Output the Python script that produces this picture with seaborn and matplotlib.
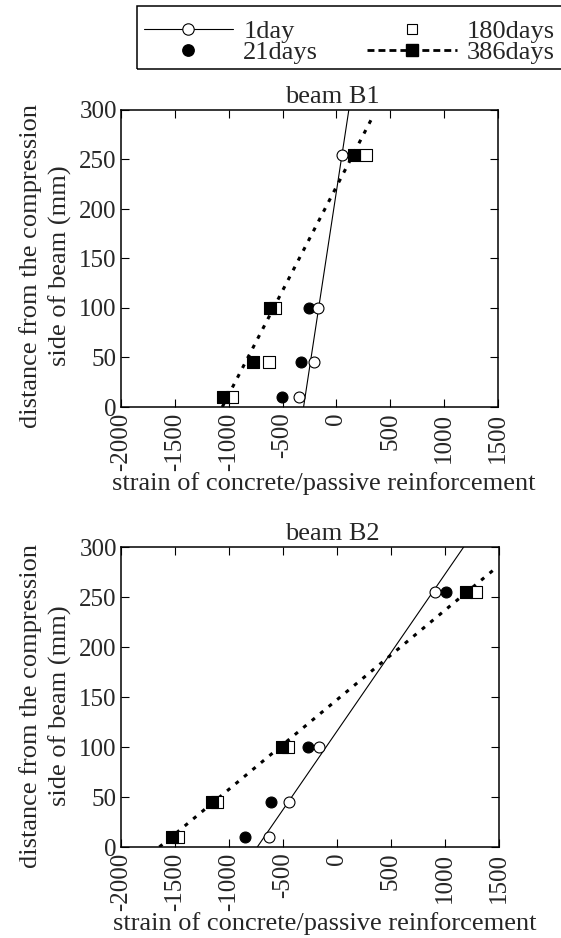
import matplotlib
matplotlib.use("Agg")
import matplotlib.pyplot as plt
from matplotlib.lines import Line2D
from matplotlib.patches import Rectangle
import seaborn as sns

# ---------------- data ----------------
depth = [10, 45, 100, 255]

b1_1day = [-345, -205, -167, 50]
b1_21days = [-504, -328, -257, 160]
b1_180days = [-969, -630, -570, 276]
b1_386days = [-1052, -770, -619, 167]

b2_1day = [-628, -449, -166, 910]
b2_21days = [-850, -615, -272, 1012]
b2_180days = [-1468, -1110, -455, 1290]
b2_386days = [-1532, -1153, -505, 1191]

# fitted strain-profile lines (strain at ends, depth at ends)
b1_fit_1day_x = [-305, 115]
b1_fit_1day_y = [0, 300]
b1_fit_386_x = [-1060, 331]
b1_fit_386_y = [0, 292]

b2_fit_1day_x = [-738, 1173]
b2_fit_1day_y = [0, 300]
b2_fit_386_x = [-1645, 1460]
b2_fit_386_y = [0, 278]

x_ticks = [-2000, -1500, -1000, -500, 0, 500, 1000, 1500]
y_ticks = [0, 50, 100, 150, 200, 250, 300]

titles = ["beam B1", "beam B2"]
series_labels = ["1day", "21days", "180days", "386days"]
xlabel = "strain of concrete/passive reinforcement"
ylabel = "distance from the compression\nside of beam (mm)"

# ---------------- style ----------------
sns.set_style("ticks")
plt.rcParams["font.family"] = ["Liberation Serif", "DejaVu Serif"]
plt.rcParams["font.size"] = 18

FS_TICK = 18
FS_LAB = 19
DOT = (0, (1.3, 2.3))
DOT_LW = 2.2

fig = plt.figure(figsize=(5.61, 9.38), dpi=100)
W, H = 561, 938
ax1 = fig.add_axes([121 / W, 1 - 407 / H, 377 / W, 297 / H])
ax2 = fig.add_axes([121 / W, 1 - 847 / H, 378 / W, 300 / H])

panels = [
    (ax1, b1_1day, b1_21days, b1_180days, b1_386days,
     b1_fit_1day_x, b1_fit_1day_y, b1_fit_386_x, b1_fit_386_y),
    (ax2, b2_1day, b2_21days, b2_180days, b2_386days,
     b2_fit_1day_x, b2_fit_1day_y, b2_fit_386_x, b2_fit_386_y),
]
ylab_pos = [0.475, 0.47]

for i, (ax, s1, s21, s180, s386, f1x, f1y, f386x, f386y) in enumerate(panels):
    sns.lineplot(x=f1x, y=f1y, ax=ax, color="black", lw=0.8, sort=False,
                 estimator=None, legend=False, zorder=2)
    sns.lineplot(x=f386x, y=f386y, ax=ax, color="black", lw=DOT_LW,
                 linestyle=DOT, sort=False, estimator=None, legend=False,
                 zorder=2)
    sns.scatterplot(x=s21, y=depth, ax=ax, marker="o", s=62, color="black",
                    edgecolor="black", linewidth=0.8, legend=False, zorder=3)
    sns.scatterplot(x=s1, y=depth, ax=ax, marker="o", s=62, color="white",
                    edgecolor="black", linewidth=0.8, legend=False, zorder=4)
    sns.scatterplot(x=s180, y=depth, ax=ax, marker="s", s=70, color="white",
                    edgecolor="black", linewidth=0.8, legend=False, zorder=5)
    sns.scatterplot(x=s386, y=depth, ax=ax, marker="s", s=70, color="black",
                    edgecolor="black", linewidth=0.8, legend=False, zorder=6)

    ax.set_xlim(-2000, 1500)
    ax.set_ylim(0, 300)
    ax.set_xticks(x_ticks)
    ax.set_yticks(y_ticks)
    ax.set_xticklabels([str(t) for t in x_ticks], rotation=90, fontsize=FS_TICK)
    ax.set_yticklabels([str(t) for t in y_ticks], fontsize=FS_TICK)
    ax.tick_params(direction="in", length=6, width=0.8, top=True, right=True,
                   color="black", pad=3)
    ax.tick_params(axis="x", pad=4)
    for sp in ax.spines.values():
        sp.set_visible(True)
        sp.set_linewidth(1.1)
        sp.set_color("black")
    ax.set_title(titles[i], fontsize=FS_LAB, pad=5, x=0.56)
    ax.set_xlabel(xlabel, fontsize=FS_LAB, labelpad=1, x=0.538)
    ax.set_ylabel(ylabel, fontsize=FS_LAB, labelpad=5.5, linespacing=1.35,
                  y=ylab_pos[i])
    ax.set_facecolor("white")

# ---------------- legend ----------------
handles = [
    Line2D([], [], color="black", lw=0.8, marker="o", markersize=8.2,
           markerfacecolor="white", markeredgecolor="black", markeredgewidth=0.8),
    Line2D([], [], color="black", lw=0, marker="o", markersize=8.2,
           markerfacecolor="black", markeredgecolor="black"),
    Line2D([], [], color="black", lw=0, marker="s", markersize=7.8,
           markerfacecolor="white", markeredgecolor="black", markeredgewidth=0.8),
    Line2D([], [], color="black", lw=2.0, linestyle=(0, (2.5, 1.45)),
           marker="s", markersize=8.2, markerfacecolor="black",
           markeredgecolor="black"),
]
leg = fig.legend(handles, series_labels, ncol=2, loc="upper left",
                 bbox_to_anchor=(134 / W, 1 - 10 / H),
                 bbox_transform=fig.transFigure, frameon=False,
                 borderpad=0.36,
                 handlelength=3.4, handletextpad=0.38, columnspacing=1.85,
                 labelspacing=-0.08, borderaxespad=0, fontsize=FS_LAB)
# legend frame
fig.patches.append(Rectangle((137 / W, 1 - 69 / H), (566 - 137) / W, 63 / H,
                             transform=fig.transFigure, fill=False,
                             edgecolor="black", lw=1.1))

fig.savefig("out.png", dpi=100, facecolor="white")
